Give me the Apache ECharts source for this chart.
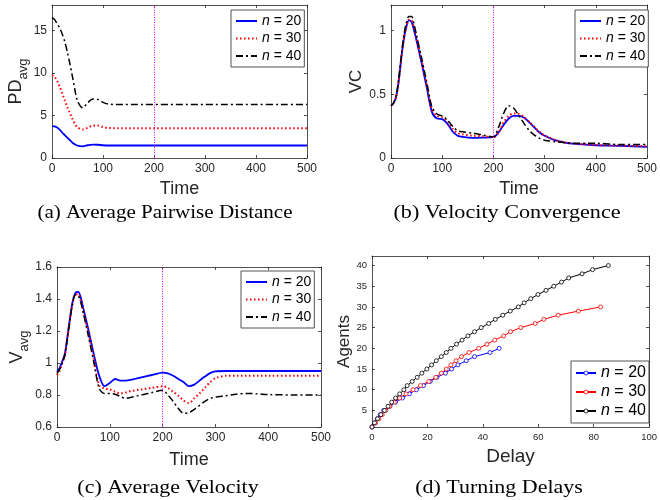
<!DOCTYPE html>
<html>
<head>
<meta charset="utf-8">
<script src="https://cdn.jsdelivr.net/npm/echarts@6/dist/echarts.min.js"></script>
<style>
  html, body { margin: 0; padding: 0; background: #fff; }
  #main { width: 660px; height: 500px; }
</style>
</head>
<body>
<div id="main"></div>
<script>
// time samples shared by (a) (b) (c)
var timeSteps = [0, 5, 10, 15, 20, 25, 30, 35, 40, 45, 50, 60, 70, 80, 90, 100, 110, 120, 130, 140,
    160, 180, 200, 210, 220, 230, 240, 250, 260, 270, 280, 290, 300, 320, 340, 360, 380, 400, 450, 500];

// (a) average pairwise distance
var pdN20 = [3.75, 3.72, 3.6, 3.35, 3.0, 2.7, 2.4, 2.1, 1.8, 1.6, 1.45, 1.37, 1.5, 1.58, 1.56, 1.5, 1.47, 1.47, 1.47, 1.47,
    1.47, 1.47, 1.47, 1.47, 1.47, 1.47, 1.47, 1.47, 1.47, 1.47, 1.47, 1.47, 1.47, 1.47, 1.47, 1.47, 1.47, 1.47, 1.47, 1.47];
var pdN30 = [9.75, 9.55, 9.1, 8.4, 7.6, 6.8, 6.0, 5.3, 4.6, 4.0, 3.6, 3.35, 3.55, 3.8, 3.82, 3.65, 3.55, 3.52, 3.5, 3.5,
    3.5, 3.5, 3.5, 3.5, 3.5, 3.5, 3.5, 3.5, 3.5, 3.5, 3.5, 3.5, 3.5, 3.5, 3.5, 3.5, 3.5, 3.5, 3.5, 3.5];
var pdN40 = [16.5, 16.3, 15.8, 15.3, 14.6, 13.7, 12.5, 11.1, 9.6, 8.0, 6.7, 5.9, 6.5, 6.95, 6.9, 6.55, 6.35, 6.3, 6.3, 6.3,
    6.3, 6.3, 6.3, 6.3, 6.3, 6.3, 6.3, 6.3, 6.3, 6.3, 6.3, 6.3, 6.3, 6.3, 6.3, 6.3, 6.3, 6.3, 6.3, 6.3];

// (b) velocity convergence
var vcN20 = [0.41, 0.43, 0.48, 0.6, 0.78, 0.93, 1.03, 1.08, 1.07, 1.0, 0.92, 0.74, 0.55, 0.36, 0.31, 0.305, 0.27, 0.21, 0.175, 0.165,
    0.158, 0.16, 0.163, 0.2, 0.26, 0.31, 0.33, 0.33, 0.315, 0.28, 0.24, 0.2, 0.175, 0.14, 0.12, 0.11, 0.105, 0.1, 0.095, 0.088];
var vcN30 = [0.41, 0.43, 0.48, 0.6, 0.78, 0.93, 1.03, 1.085, 1.08, 1.02, 0.94, 0.76, 0.57, 0.38, 0.33, 0.32, 0.29, 0.23, 0.195, 0.185,
    0.175, 0.17, 0.163, 0.2, 0.28, 0.33, 0.35, 0.345, 0.32, 0.285, 0.245, 0.205, 0.178, 0.142, 0.122, 0.112, 0.107, 0.102, 0.097, 0.092];
var vcN40 = [0.41, 0.43, 0.49, 0.62, 0.8, 0.96, 1.06, 1.11, 1.11, 1.05, 0.96, 0.78, 0.59, 0.4, 0.345, 0.33, 0.3, 0.25, 0.215, 0.205,
    0.195, 0.18, 0.165, 0.24, 0.35, 0.41, 0.39, 0.33, 0.27, 0.215, 0.18, 0.155, 0.14, 0.128, 0.12, 0.115, 0.115, 0.115, 0.105, 0.105];

// (c) average velocity
var vN20 = [0.945, 0.97, 1.01, 1.06, 1.17, 1.29, 1.39, 1.44, 1.445, 1.41, 1.34, 1.2, 1.05, 0.92, 0.855, 0.875, 0.9, 0.89, 0.89, 0.895,
    0.91, 0.925, 0.94, 0.935, 0.92, 0.9, 0.88, 0.855, 0.865, 0.89, 0.915, 0.937, 0.948, 0.95, 0.95, 0.95, 0.95, 0.95, 0.95, 0.95];
var vN30 = [0.925, 0.95, 1.0, 1.05, 1.16, 1.28, 1.38, 1.43, 1.43, 1.39, 1.32, 1.18, 1.02, 0.86, 0.84, 0.835, 0.82, 0.81, 0.815, 0.825,
    0.835, 0.845, 0.855, 0.845, 0.82, 0.795, 0.765, 0.75, 0.78, 0.81, 0.845, 0.88, 0.905, 0.92, 0.92, 0.92, 0.92, 0.92, 0.92, 0.92];
var vN40 = [0.935, 0.96, 1.0, 1.05, 1.16, 1.28, 1.38, 1.425, 1.42, 1.38, 1.31, 1.16, 1.0, 0.84, 0.81, 0.81, 0.805, 0.79, 0.78, 0.785,
    0.8, 0.815, 0.83, 0.8, 0.76, 0.715, 0.685, 0.69, 0.71, 0.735, 0.76, 0.778, 0.787, 0.795, 0.805, 0.81, 0.807, 0.803, 0.8, 0.8];

// (d) turning delays: delay at which each agent count is reached
var agents20 = [1, 2, 3, 4, 5, 6, 7, 8, 9, 10, 11, 12, 13, 14, 15, 16, 17, 18, 19, 20];
var delay20 = [0, 1.0, 2.0, 3.0, 4.2, 6.5, 8.5, 11.0, 13.5, 16.0, 18.6, 21.0, 23.4, 26.5, 28.7, 31.0, 34.0, 37.0, 42.6, 45.9];
var agents30 = [1, 2, 3, 4, 5, 6, 7, 8, 9, 10, 11, 12, 13, 14, 15, 16, 17, 18, 19, 20,
    21, 22, 23, 24, 25, 26, 27, 28, 29, 30];
var delay30 = [0, 1.3, 2.5, 3.7, 5.0, 6.4, 8.0, 10.0, 12.3, 14.8, 17.5, 20.5, 23.0, 25.0, 26.8, 28.5, 30.3, 32.3, 35.0, 38.5,
    41.5, 44.3, 47.5, 50.0, 53.7, 58.9, 62.0, 67.2, 74.5, 82.5];
var agents40 = [1, 2, 3, 4, 5, 6, 7, 8, 9, 10, 11, 12, 13, 14, 15, 16, 17, 18, 19, 20,
    21, 22, 23, 24, 25, 26, 27, 28, 29, 30, 31, 32, 33, 34, 35, 36, 37, 38, 39, 40];
var delay40 = [0, 0.9, 2.0, 3.2, 4.5, 5.8, 7.1, 8.5, 10.0, 11.5, 12.7, 14.5, 16.3, 18.0, 19.8, 21.5, 23.2, 25.0, 26.8, 28.5,
    30.5, 32.5, 34.6, 37.0, 39.4, 42.1, 44.5, 47.2, 49.9, 52.8, 54.9, 57.3, 59.9, 62.8, 65.6, 68.4, 71.0, 75.8, 79.6, 85.3];

// tick labels
var timeTicks = [0, 100, 200, 300, 400, 500];
var pdTicks = [0, 5, 10, 15];
var vcTicks = [0, 0.5, 1];
var vTicks = [0.6, 0.8, 1, 1.2, 1.4, 1.6];
var delayTicks = [0, 20, 40, 60, 80, 100];
var agentTicks = [5, 10, 15, 20, 25, 30, 35, 40];

var axisColor = '#262626';
var sans = 'Liberation Sans, Arial, Helvetica, sans-serif';
var serif = 'Liberation Serif, Times New Roman, serif';

function pairs(xs, ys) {
    return xs.map(function (x, i) { return [x, ys[i]]; });
}

// one axis with box line and inward ticks (MATLAB look)
function axis(gi, pos, min, max, ticks, fs, showLabel) {
    return {
        type: 'value', gridIndex: gi, position: pos, min: min, max: max,
        axisLine: { show: true, onZero: false, lineStyle: { color: axisColor, width: 0.8 } },
        axisTick: { show: true, inside: true, length: 3, customValues: ticks, lineStyle: { color: axisColor, width: 0.8 } },
        axisLabel: { show: showLabel, customValues: ticks, fontSize: fs, color: axisColor, fontFamily: sans, margin: 5 },
        splitLine: { show: false }
    };
}

var xAxes = [], yAxes = [];
function addAxes(gi, xr, xt, yr, yt, fs, xName, xGap, xSize, yName, yGap, ySize, subSize) {
    var xb = axis(gi, 'bottom', xr[0], xr[1], xt, fs, true);
    xb.name = xName; xb.nameLocation = 'middle'; xb.nameGap = xGap;
    xb.nameTextStyle = { fontSize: xSize, color: axisColor, fontFamily: sans };
    var yl = axis(gi, 'left', yr[0], yr[1], yt, fs, true);
    yl.name = yName; yl.nameLocation = 'middle'; yl.nameGap = yGap;
    yl.nameTextStyle = {
        fontSize: ySize, color: axisColor, fontFamily: sans,
        rich: {
            m: { fontSize: ySize, fontFamily: sans, color: axisColor, padding: [0, 0, 5, 0] },
            s: { fontSize: subSize, fontFamily: sans, color: axisColor, verticalAlign: 'bottom' }
        }
    };
    xAxes.push(xb, axis(gi, 'top', xr[0], xr[1], xt, fs, false));
    yAxes.push(yl, axis(gi, 'right', yr[0], yr[1], yt, fs, false));
}

addAxes(0, [0, 500], timeTicks, [0, 18], pdTicks, 12, 'Time', 22, 18, '{m|PD}{s|avg}', 19, 18, 13);
addAxes(1, [0, 500], timeTicks, [0, 1.2], vcTicks, 12, 'Time', 22, 18, '{m|VC}', 21, 17, 13);
addAxes(2, [0, 500], timeTicks, [0.6, 1.6], vTicks, 12, 'Time', 24, 18, '{m|V}{s|avg}', 24, 18, 13);
addAxes(3, [0, 100], delayTicks, [1, 42.3], agentTicks, 9.5, 'Delay', 20, 19, '{m|Agents}', 14, 17, 13);

var blue = '#0000ff', red = '#ff0000', black = '#000000';
var styles = {
    20: { color: blue, width: 1.8, type: 'solid' },
    30: { color: red, width: 2, type: [1.5, 2.5] },
    40: { color: black, width: 1.5, type: [7, 3, 2, 3] }
};

var vline = {
    silent: true, symbol: ['none', 'none'], label: { show: false },
    lineStyle: { color: '#ff00ff', width: 1, type: [1, 1.5] },
    data: [{ xAxis: 200 }]
};

var series = [];
function addTimeSeries(gi, tag, list) {
    list.forEach(function (item, k) {
        var s = {
            type: 'line', name: tag + '_' + item[0],
            xAxisIndex: gi * 2, yAxisIndex: gi * 2,
            data: pairs(timeSteps, item[1]),
            symbol: 'none', smooth: 0.3,
            lineStyle: styles[item[0]], itemStyle: { color: styles[item[0]].color }
        };
        if (k === 0) s.markLine = vline;
        series.push(s);
    });
}
addTimeSeries(0, 'a', [[20, pdN20], [30, pdN30], [40, pdN40]]);
addTimeSeries(1, 'b', [[20, vcN20], [30, vcN30], [40, vcN40]]);
addTimeSeries(2, 'c', [[20, vN20], [30, vN30], [40, vN40]]);

[[20, delay20, agents20], [30, delay30, agents30], [40, delay40, agents40]].forEach(function (item) {
    var c = styles[item[0]].color;
    series.push({
        type: 'line', name: 'd_' + item[0], xAxisIndex: 6, yAxisIndex: 6,
        data: pairs(item[1], item[2]),
        symbol: 'circle', symbolSize: 4,
        lineStyle: { color: c, width: 1 },
        itemStyle: { color: '#fff', borderColor: c, borderWidth: 0.8 }
    });
});

function legend(tag, left, top, fs, gap, iw, ih, symbolStyle) {
    return {
        data: [tag + '_20', tag + '_30', tag + '_40'],
        orient: 'vertical', left: left, top: top,
        padding: [4, 3, 4, 4], itemGap: gap, itemWidth: iw, itemHeight: ih,
        backgroundColor: '#fff', borderColor: axisColor, borderWidth: 0.8,
        selectedMode: false,
        itemStyle: symbolStyle,
        formatter: function (name) { return '{i|n} = ' + name.split('_')[1]; },
        textStyle: {
            fontSize: fs, color: '#000', fontFamily: sans,
            rich: { i: { fontSize: fs, fontStyle: 'italic', fontFamily: sans, color: '#000' } }
        }
    };
}
var noSymbol = { color: 'rgba(0,0,0,0)', borderWidth: 0, opacity: 0 };

function caption(text, x, y, sx) {
    return {
        type: 'text', x: x, y: y, scaleX: sx, silent: true,
        style: { text: text, fill: '#000', font: '18px ' + serif, align: 'center', textAlign: 'center', verticalAlign: 'top' }
    };
}

var option = {
    backgroundColor: '#fff',
    animation: false,
    grid: [
        { left: 52, top: 5, width: 255, height: 153 },
        { left: 391, top: 5, width: 260, height: 153 },
        { left: 57, top: 267, width: 264, height: 160 },
        { left: 372, top: 256, width: 281, height: 171 }
    ],
    xAxis: xAxes,
    yAxis: yAxes,
    legend: [
        legend('a', 231, 10, 14, 3.5, 21, 12, noSymbol),
        legend('b', 575, 10, 14, 3.5, 21, 12, noSymbol),
        legend('c', 241, 271, 14, 3.5, 21, 12, noSymbol),
        legend('d', 571, 361, 16, 3, 20, 5, { borderWidth: 0.8 })
    ],
    series: series,
    graphic: [
        caption('(a) Average Pairwise Distance', 165, 204, 1.17),
        caption('(b) Velocity Convergence', 507, 204, 1.23),
        caption('(c) Average Velocity', 168, 479, 1.22),
        caption('(d) Turning Delays', 499, 479, 1.22)
    ]
};

var chart = echarts.init(document.getElementById('main'));
chart.setOption(option);
</script>
</body>
</html>
